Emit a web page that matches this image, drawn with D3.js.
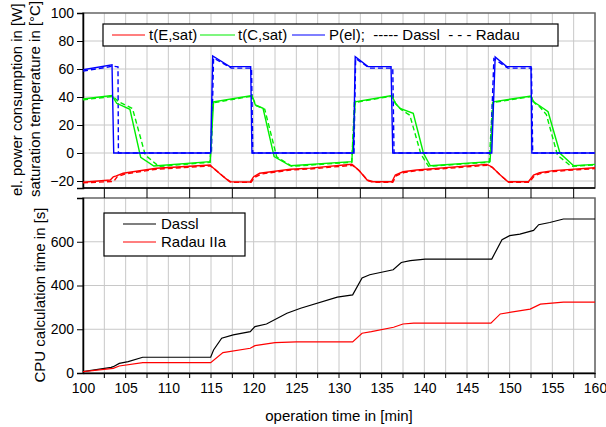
<!DOCTYPE html>
<html>
<head>
<meta charset="utf-8">
<script src="https://cdn.jsdelivr.net/npm/d3@7"></script>
<style>
  body { margin: 0; background: #fff; }
  text { font-family: Arial, "Liberation Sans", sans-serif; font-size: 14px; fill: #000; }
  .title { font-size: 15px; }
</style>
</head>
<body>
<div class="chart"></div>
<script>
// ---- data: [time in min, value] ----
const tE_dassl = [[100,-20.9],[103.2,-19.3],[103.55,-17],[103.9,-16.4],[104.7,-14.5],[108.6,-10.9],[114.9,-8.6],[115.1,-9.8],[116.45,-16.9],[117.2,-20.5],[119.6,-20.7],[120,-16.9],[120.7,-14.5],[124.3,-11.6],[126.6,-10.8],[131.5,-8.1],[132.3,-12.1],[133.3,-19.3],[134,-20.5],[136.2,-20.5],[136.6,-15.7],[137.5,-13.4],[139.1,-12.1],[147.3,-8.1],[147.9,-9.8],[148.9,-15.7],[149.8,-20.5],[152.2,-20.5],[152.8,-15.7],[153.5,-14.1],[155.1,-12.6],[160,-10.5]];
const tE_radau = [[100,-21.3],[103.6,-20.3],[104,-17],[104.9,-15],[108.6,-11.6],[114.9,-9.2],[115.2,-10.4],[116.6,-17.5],[117.4,-21],[119.7,-21],[120.1,-17.4],[120.9,-15],[124.3,-12.2],[126.6,-11.4],[131.6,-8.8],[132.4,-12.8],[133.4,-19.8],[134.1,-21],[136.3,-21],[136.7,-16.3],[137.6,-14],[139.1,-12.7],[147.4,-8.7],[148,-10.4],[149,-16.3],[149.9,-21],[152.3,-21],[152.9,-16.3],[153.6,-14.7],[155.1,-13.2],[160,-11.1]];
const tC_dassl = [[100,38.6],[103.4,41],[103.95,35.5],[105.5,31.2],[106.76,-3.1],[108.3,-9.3],[114.9,-6.2],[115.3,36.6],[119.8,41],[120.2,34.3],[121.1,31.9],[122.4,-2.6],[124.3,-9.1],[131.5,-6.2],[131.9,36.6],[136.2,41],[136.6,35.5],[137.15,31.9],[138.7,28.4],[139.9,-0.2],[140.7,-9.1],[147.7,-6.2],[148.1,36.6],[152.5,40.7],[152.8,36.6],[153.55,33.6],[154.5,29.5],[155.9,-0.2],[157.5,-9.1],[160,-8.1]];
const tC_radau = [[100,38],[103.5,40.4],[104.2,36.5],[105.8,31.8],[107.3,-1.5],[108.9,-9.6],[114.9,-6.6],[115.2,35.8],[119.8,40.6],[120.3,33.8],[121.3,31.2],[122.7,-2.8],[124.5,-9.5],[131.5,-6.6],[131.8,36],[136.2,40.6],[136.7,34.8],[137.3,31],[138.3,27],[139.6,-0.8],[140.5,-9.5],[147.6,-6.6],[148,36],[152.5,40.3],[152.9,35.8],[153.6,32.5],[154.3,27.5],[155.6,-1.5],[157.2,-9.5],[160,-8.5]];
const pel_dassl = [[100,59.5],[103.4,63],[103.6,0],[114.96,0],[115.2,69.3],[117.2,61.7],[119.65,61.7],[119.8,0],[131.7,0],[131.9,68.8],[133.4,61.7],[136.1,61.7],[136.3,0],[147.9,0],[148.3,68.6],[149.65,61.7],[152.5,61.7],[152.6,0],[160,0]];
const pel_radau = [[100,58.5],[103.5,62],[104.1,61.6],[104.15,0],[115.05,0],[115.3,67.8],[117.4,60.6],[119.75,60.6],[119.9,0],[131.75,0],[131.95,67.5],[133.6,60.6],[136.3,60.6],[136.45,0],[147.75,0],[148.15,67.3],[149.8,60.6],[152.55,60.6],[152.7,0],[160,0]];

const cpu_dassl = [[100,6],[103.3,26],[103.55,29],[104.25,44],[105.3,52],[107,72],[114.96,72],[115.3,105],[116.25,159],[117.6,174],[119.6,189],[120.15,212],[121.5,224],[123.9,273],[125.5,296],[129.8,347],[131.6,357],[132.7,434],[133.6,449],[136.35,472],[137.3,505],[138.35,514],[140.1,521],[147.9,521],[149.1,609],[150,628],[151.2,635],[152.8,652],[153.4,678],[154.7,688],[156.3,704],[160,704]];
const cpu_radau = [[100,6],[103.55,21.5],[104.25,32],[107,47],[114.96,47],[116.4,93],[119.6,113],[120.15,125],[122.5,139],[125,142],[131.6,142],[132.7,182],[133.8,189],[136.4,209],[137.5,224],[138.75,228],[140.1,228],[147.8,228],[148.9,270],[152.4,292],[153.6,315],[156.3,324],[160,324]];

const xTicks = d3.range(100, 161, 5);
const topYTicks = [-20, 0, 20, 40, 60, 80, 100];
const botYTicks = [0, 200, 400, 600];

// ---- layout ----
const W = 606, H = 427;
const svg = d3.select('.chart').append('svg').attr('width', W).attr('height', H);

const x = d3.scaleLinear().domain([100, 160]).range([83, 595]);
const yTop = d3.scaleLinear().domain([-25, 100]).range([188, 13]);
const yBot = d3.scaleLinear().domain([0, 800]).range([373, 198]);

const gridColor = '#c8c8c8';
const minorX = d3.range(100, 160.01, 2.5);
const offX = d3.range(102.5, 160, 5);

function panel(y, yTicks, yGrid) {
    const g = svg.append('g');
    // grid
    g.selectAll('.vg').data(minorX).enter().append('line')
        .attr('x1', d => x(d)).attr('x2', d => x(d))
        .attr('y1', y.range()[1]).attr('y2', y.range()[0])
        .attr('stroke', gridColor).attr('stroke-width', 1);
    g.selectAll('.hg').data(yGrid).enter().append('line')
        .attr('x1', x(100)).attr('x2', x(160))
        .attr('y1', d => y(d)).attr('y2', d => y(d))
        .attr('stroke', gridColor).attr('stroke-width', 1);
    // frame
    g.append('rect')
        .attr('x', x(100)).attr('y', y.range()[1])
        .attr('width', x(160) - x(100)).attr('height', y.range()[0] - y.range()[1])
        .attr('fill', 'none').attr('stroke', '#666').attr('stroke-width', 1.5);
    // left axis
    const ax = g.append('g')
        .attr('transform', 'translate(' + x(100) + ',0)')
        .call(d3.axisLeft(y).tickValues(yTicks).tickSize(6).tickPadding(3));
    ax.select('.domain').attr('stroke', '#000').attr('stroke-width', 1.5);
    ax.selectAll('text').style('font-size', '14px').style('font-family', 'Arial, "Liberation Sans", sans-serif').attr('fill', '#000');
    return g;
}

panel(yTop, topYTicks, [-20, 0, 20, 40, 60, 80]);
panel(yBot, botYTicks, [200, 400, 600]);

// bottom axis of top plot
svg.append('line').attr('x1', x(100)).attr('x2', x(160)).attr('y1', yTop(-25)).attr('y2', yTop(-25))
    .attr('stroke', '#000').attr('stroke-width', 1.5);
svg.selectAll('.tt').data(offX).enter().append('line')
    .attr('x1', d => x(d)).attr('x2', d => x(d))
    .attr('y1', yTop(-25)).attr('y2', yTop(-25) + 5).attr('stroke', '#000');
// top ticks of bottom plot
svg.selectAll('.bt').data(offX).enter().append('line')
    .attr('x1', d => x(d)).attr('x2', d => x(d))
    .attr('y1', yBot(800)).attr('y2', yBot(800) - 5).attr('stroke', '#000');

// bottom x axis
const xa = svg.append('g')
    .attr('transform', 'translate(0,' + yBot(0) + ')')
    .call(d3.axisBottom(x).tickValues(xTicks).tickSize(0).tickPadding(10).tickFormat(d3.format('d')));
xa.select('.domain').attr('stroke', '#000').attr('stroke-width', 1.5);
xa.selectAll('text').style('font-size', '14px').style('font-family', 'Arial, "Liberation Sans", sans-serif').attr('fill', '#000');
svg.selectAll('.bx').data(minorX.filter(d => d > 100)).enter().append('line')
    .attr('x1', d => x(d)).attr('x2', d => x(d))
    .attr('y1', yBot(0)).attr('y2', yBot(0) + 5).attr('stroke', '#000');

// ---- curves ----
svg.append('clipPath').attr('id', 'clipTop').append('rect')
    .attr('x', x(100)).attr('y', yTop(100)).attr('width', x(160) - x(100)).attr('height', yTop(-25) - yTop(100));
svg.append('clipPath').attr('id', 'clipBot').append('rect')
    .attr('x', x(100)).attr('y', yBot(800)).attr('width', x(160) - x(100)).attr('height', yBot(0) - yBot(800));

const lineTop = d3.line().x(d => x(d[0])).y(d => yTop(d[1]));
const lineBot = d3.line().x(d => x(d[0])).y(d => yBot(d[1]));

const topSeries = [
    {d: tE_radau, c: '#ff0000', dash: '5,3'},
    {d: tC_radau, c: '#00ee00', dash: '5,3'},
    {d: pel_radau, c: '#0000ff', dash: '5,3'},
    {d: tE_dassl, c: '#ff0000', dash: null},
    {d: tC_dassl, c: '#00ee00', dash: null},
    {d: pel_dassl, c: '#0000ff', dash: null}
];
const gc = svg.append('g').attr('clip-path', 'url(#clipTop)');
topSeries.forEach(s => {
    gc.append('path').datum(s.d).attr('d', lineTop)
        .attr('fill', 'none').attr('stroke', s.c).attr('stroke-width', 1.4)
        .attr('stroke-dasharray', s.dash);
});

const gb = svg.append('g').attr('clip-path', 'url(#clipBot)');
gb.append('path').datum(cpu_dassl).attr('d', lineBot).attr('fill', 'none').attr('stroke', '#000').attr('stroke-width', 1.2);
gb.append('path').datum(cpu_radau).attr('d', lineBot).attr('fill', 'none').attr('stroke', '#ff0000').attr('stroke-width', 1.2);

// ---- legends ----
const lg = svg.append('g');
lg.append('rect').attr('x', 103).attr('y', 24).attr('width', 455).attr('height', 22)
    .attr('fill', '#fff').attr('stroke', '#000').attr('stroke-width', 1.2);
[[112, 145, '#ff0000', 149, 't(E,sat)'], [200, 235, '#00ee00', 238, 't(C,sat)'], [292, 325, '#0000ff', 329, 'P(el);  ----- Dassl  - - - Radau']]
    .forEach(it => {
        lg.append('line').attr('x1', it[0]).attr('x2', it[1]).attr('y1', 35).attr('y2', 35)
            .attr('stroke', it[2]).attr('stroke-width', 1.2);
        lg.append('text').attr('class', 'title').attr('x', it[3]).attr('y', 40).attr('xml:space', 'preserve')
            .style('white-space', 'pre').text(it[4]);
    });

const lb = svg.append('g');
lb.append('rect').attr('x', 104).attr('y', 213).attr('width', 141).attr('height', 43)
    .attr('fill', '#fff').attr('stroke', '#000').attr('stroke-width', 1.2);
[[224, '#000', 'Dassl'], [242, '#ff0000', 'Radau IIa']].forEach(it => {
    lb.append('line').attr('x1', 123).attr('x2', 156).attr('y1', it[0]).attr('y2', it[0])
        .attr('stroke', it[1]).attr('stroke-width', 1.2);
    lb.append('text').attr('class', 'title').attr('x', 161).attr('y', it[0] + 5).text(it[2]);
});

// ---- axis titles ----
svg.append('text').attr('class', 'title').attr('transform', 'translate(22,196) rotate(-90)').text('el. power consumption in [W]');
svg.append('text').attr('class', 'title').attr('transform', 'translate(40,197) rotate(-90)').text('saturation temperature in [°C]');
svg.append('text').attr('class', 'title').attr('transform', 'translate(45,295) rotate(-90)').attr('text-anchor', 'middle').text('CPU calculation time in [s]');
svg.append('text').attr('class', 'title').attr('x', 339).attr('y', 421).attr('text-anchor', 'middle').text('operation time in [min]');
</script>
</body>
</html>
